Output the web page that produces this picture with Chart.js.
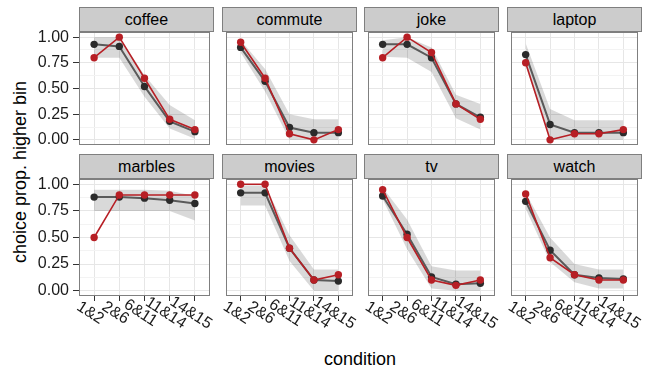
<!DOCTYPE html>
<html>
<head>
<meta charset="utf-8">
<script src="https://cdn.jsdelivr.net/npm/chart.js@4/dist/chart.umd.min.js"></script>
<style>
body { margin: 0; background: #fff; font-family: "Liberation Sans", Arial, sans-serif; }
#plot { position: relative; width: 657px; height: 372px; overflow: hidden; background: #fff; }
#plot canvas { position: absolute; }
.strip { position: absolute; height: 25px; background: #cccccc; border: 1px solid #7f7f7f; box-sizing: border-box;
	text-align: center; font-size: 16px; line-height: 23px; color: #000; }
.title { position: absolute; font-size: 18px; color: #000; white-space: nowrap; }
</style>
</head>
<body>
<div id="plot">
	<div class="title" id="ytitle">choice prop. higher bin</div>
	<div class="title" id="xtitle">condition</div>
</div>
<script>
const conditions = ["1&2", "2&6", "6&11", "11&14", "14&15"];
const items = ["coffee", "commute", "joke", "laptop", "marbles", "movies", "tv", "watch"];

// model prediction (grey line, black points)
const modelMean = {
	coffee:  [0.93, 0.91, 0.52, 0.18, 0.08],
	commute: [0.90, 0.57, 0.12, 0.07, 0.07],
	joke:    [0.93, 0.93, 0.80, 0.35, 0.22],
	laptop:  [0.83, 0.15, 0.07, 0.07, 0.07],
	marbles: [0.88, 0.88, 0.87, 0.85, 0.82],
	movies:  [0.92, 0.92, 0.40, 0.10, 0.09],
	tv:      [0.89, 0.53, 0.13, 0.06, 0.07],
	watch:   [0.84, 0.38, 0.15, 0.12, 0.11]
};
// model interval (grey band)
const modelLow = {
	coffee:  [0.80, 0.80, 0.42, 0.11, 0.01],
	commute: [0.85, 0.47, 0.00, 0.00, 0.00],
	joke:    [0.81, 0.80, 0.66, 0.21, 0.10],
	laptop:  [0.72, 0.00, 0.00, 0.00, 0.00],
	marbles: [0.75, 0.75, 0.75, 0.75, 0.66],
	movies:  [0.80, 0.80, 0.28, 0.00, 0.00],
	tv:      [0.86, 0.39, 0.02, 0.00, 0.00],
	watch:   [0.77, 0.27, 0.08, 0.02, 0.02]
};
const modelHigh = {
	coffee:  [1.00, 1.00, 0.63, 0.34, 0.19],
	commute: [0.97, 0.69, 0.25, 0.20, 0.20],
	joke:    [0.97, 1.00, 0.90, 0.44, 0.35],
	laptop:  [0.94, 0.30, 0.19, 0.19, 0.19],
	marbles: [0.95, 0.95, 0.95, 0.94, 0.89],
	movies:  [0.99, 0.99, 0.52, 0.20, 0.20],
	tv:      [0.97, 0.67, 0.23, 0.19, 0.19],
	watch:   [0.92, 0.50, 0.25, 0.20, 0.20]
};
// observed proportions (red)
const dataProp = {
	coffee:  [0.80, 1.00, 0.60, 0.20, 0.10],
	commute: [0.95, 0.60, 0.06, 0.00, 0.10],
	joke:    [0.80, 1.00, 0.85, 0.35, 0.20],
	laptop:  [0.75, 0.00, 0.06, 0.06, 0.10],
	marbles: [0.50, 0.90, 0.90, 0.90, 0.90],
	movies:  [1.00, 1.00, 0.40, 0.10, 0.15],
	tv:      [0.95, 0.50, 0.10, 0.05, 0.10],
	watch:   [0.91, 0.31, 0.15, 0.10, 0.10]
};
const yMajor = [0, 0.25, 0.5, 0.75, 1];
const yMinor = [0.125, 0.375, 0.625, 0.875];

const panelLeft = [79, 222, 364, 507];
const panelTop = [32, 179];
const panelW = 135, panelH = 117;
const red = "#b71f25";
const fontFamily = "'Liberation Sans', Arial, sans-serif";

Chart.defaults.font.family = fontFamily;

const xy = function(vals) {
	return vals.map((v, k) => ({x: k + 1, y: v}));
}
const isMajor = function(v) {
	return yMajor.some(m => Math.abs(m - v) < 1e-6);
}

const panelBorder = {
	id: "panelBorder",
	afterDraw(chart) {
		const {ctx, chartArea: a} = chart;
		ctx.save();
		ctx.strokeStyle = "#7f7f7f";
		ctx.lineWidth = 1;
		ctx.strokeRect(a.left + 0.5, a.top + 0.5, a.right - a.left - 1, a.bottom - a.top - 1);
		ctx.restore();
	}
};

const slantedLabels = {
	id: "slantedLabels",
	afterDraw(chart, args, opts) {
		if (!opts.show) return;
		const {ctx, chartArea} = chart;
		const x = chart.scales.x;
		ctx.save();
		ctx.font = "16px " + fontFamily;
		ctx.fillStyle = "#1a1a1a";
		ctx.textAlign = "center";
		ctx.textBaseline = "middle";
		x.ticks.forEach((t, k) => {
			ctx.save();
			ctx.translate(x.getPixelForValue(t.value) - 4, chartArea.bottom + 17);
			ctx.rotate(33 * Math.PI / 180);
			ctx.fillText(conditions[k], 0, 0);
			ctx.restore();
		});
		ctx.restore();
	}
};

const plot = document.getElementById("plot");

items.forEach(function(item, i) {
	const col = i % 4, row = Math.floor(i / 4);
	const padL = col == 0 ? 79 : 0;
	const padB = row == 1 ? 75 : 0;
	const padT = 8;

	const strip = document.createElement("div");
	strip.className = "strip";
	strip.textContent = item;
	strip.style.left = panelLeft[col] + "px";
	strip.style.top = (panelTop[row] - 25) + "px";
	strip.style.width = panelW + "px";
	plot.append(strip);

	const canvas = document.createElement("canvas");
	canvas.width = panelW + padL;
	canvas.height = panelH + padB + padT;
	canvas.style.left = (panelLeft[col] - padL) + "px";
	canvas.style.top = (panelTop[row] - padT) + "px";
	plot.append(canvas);

	new Chart(canvas.getContext("2d"), {
		type: "line",
		data: {
			datasets: [
				{data: xy(modelHigh[item]), fill: "+1", backgroundColor: "rgba(0,0,0,0.15)", borderWidth: 0, pointRadius: 0, order: 4},
				{data: xy(modelLow[item]), fill: false, borderWidth: 0, pointRadius: 0, order: 3},
				{data: xy(modelMean[item]), borderColor: "#5a5a5a", borderWidth: 2, pointRadius: 3.7,
					pointBackgroundColor: "#2b2b2b", pointBorderWidth: 0, order: 2},
				{data: xy(dataProp[item]), borderColor: red, borderWidth: 1.6, pointRadius: 3.7,
					pointBackgroundColor: red, pointBorderWidth: 0, order: 1}
			]
		},
		options: {
			responsive: false,
			animation: false,
			devicePixelRatio: 1,
			layout: {padding: {top: padT, left: 0, right: 0, bottom: 0}},
			plugins: {
				legend: {display: false},
				tooltip: {enabled: false},
				slantedLabels: {show: row == 1}
			},
			scales: {
				x: {
					type: "linear", min: 0.4, max: 5.6,
					afterBuildTicks: s => { s.ticks = conditions.map((c, k) => ({value: k + 1})); },
					afterFit: s => { s.height = padB; s.paddingLeft = 0; s.paddingRight = 0; },
					grid: {color: "#e6e6e6", lineWidth: 1, drawTicks: row == 1, tickLength: 5, tickColor: "#333"},
					border: {display: false},
					ticks: {display: false, autoSkip: false}
				},
				y: {
					min: -0.05, max: 1.05,
					afterBuildTicks: s => { s.ticks = yMajor.concat(yMinor).sort((a, b) => a - b).map(v => ({value: v})); },
					afterFit: s => { s.width = padL; s.paddingTop = 0; s.paddingBottom = 0; },
					grid: {
						color: ctx => ctx.tick && isMajor(ctx.tick.value) ? "#e6e6e6" : "#f3f3f3",
						lineWidth: 1,
						drawTicks: col == 0,
						tickLength: 6,
						tickColor: ctx => ctx.tick && isMajor(ctx.tick.value) ? "#333" : "rgba(0,0,0,0)"
					},
					border: {display: false},
					ticks: {
						display: col == 0, autoSkip: false, padding: 4,
						color: "#1a1a1a", font: {size: 16},
						callback: v => isMajor(v) ? v.toFixed(2) : ""
					}
				}
			}
		},
		plugins: [panelBorder, slantedLabels]
	});
});

const ytitle = document.getElementById("ytitle");
ytitle.style.left = "20px";
ytitle.style.top = "172px";
ytitle.style.transform = "translate(-50%, -50%) rotate(-90deg)";
const xtitle = document.getElementById("xtitle");
xtitle.style.left = "360px";
xtitle.style.top = "359px";
xtitle.style.transform = "translate(-50%, -50%)";
</script>
</body>
</html>
